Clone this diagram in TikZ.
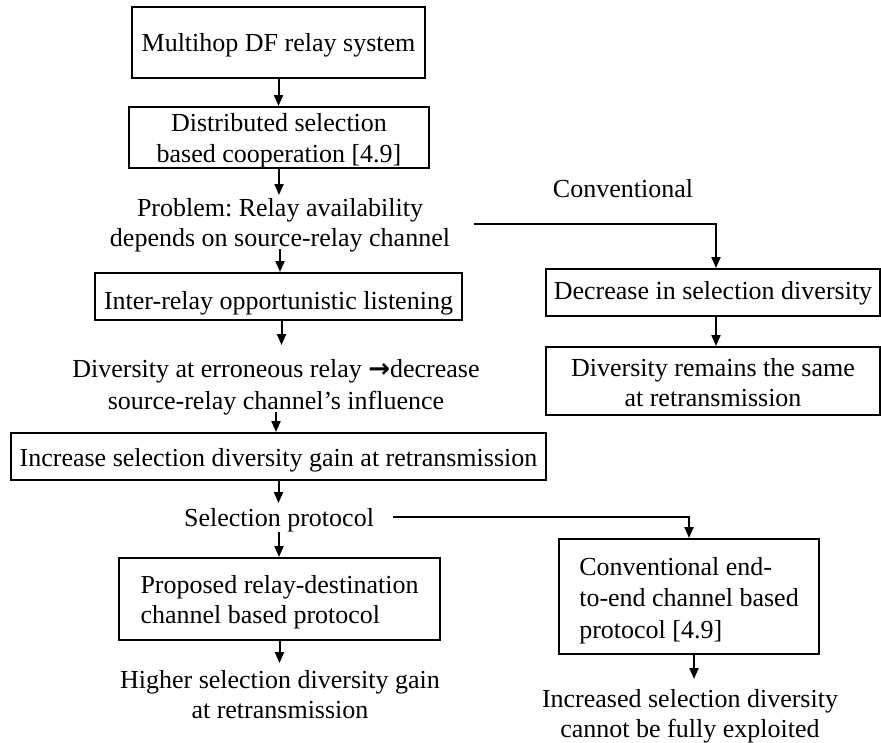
\documentclass[tikz,border=0pt]{standalone}
\usepackage{fontspec}
\setmainfont{Liberation Serif}
\newfontfamily\arrowfont{DejaVu Sans}
\usetikzlibrary{arrows.meta}
% invisible strut that sets the height of a first line above its baseline
\newcommand\liftby[1]{\rule{0pt}{#1}}
\frenchspacing
\begin{document}
\begin{tikzpicture}[x=1pt,y=-1pt,
  every node/.style={font=\fontsize{26}{30}\selectfont},
  box/.style={draw, line width=2pt, inner sep=0pt, align=center},
  txt/.style={inner sep=0pt, align=center, anchor=north},
  link/.style={line width=2pt},
  arr/.style={link, -{Triangle[length=11pt,width=9pt]}}
]
\useasboundingbox (0,0) rectangle (881,742);

% main column
\node[box, minimum width=293pt, minimum height=71pt] (sys) at (278.5,42.5) {\liftby{24.6pt}Multihop DF relay system};
\node[box, font=\fontsize{26}{31}\selectfont, minimum width=300pt, minimum height=61pt] (dsel) at (279,137.5) {\liftby{23.6pt}Distributed selection\\based cooperation [4.9]};
\node[txt] (prob) at (280,195) {\liftby{21pt}Problem: Relay availability\\depends on source-relay channel};
\node[box, minimum width=367pt, minimum height=47pt] (irl) at (278.5,296.5) {\liftby{32pt}Inter-relay opportunistic listening};
\node[txt, font=\fontsize{26}{32}\selectfont] (err) at (276,345) {\liftby{32pt}Diversity at erroneous relay {\arrowfont\bfseries →}decrease\\source-relay channel’s influence};
\node[box, minimum width=535pt, minimum height=47pt] (inc) at (278.5,456.5) {\liftby{26pt}Increase selection diversity gain at retransmission};
\node[txt] (selp) at (279,503) {\liftby{23pt}Selection protocol};
\node[box, align=left, minimum width=321pt, minimum height=82pt] (prop) at (279.5,599) {\liftby{23.6pt}Proposed relay-destination\\channel based protocol};
\node[txt] (high) at (280,663) {\liftby{25pt}Higher selection diversity gain\\at retransmission};

% conventional branch
\node[txt] (convlbl) at (623,177) {\liftby{20pt}Conventional};
\node[box, minimum width=334pt, minimum height=47pt] (dec) at (713,292.5) {\liftby{20.6pt}Decrease in selection diversity};
\node[box, minimum width=334pt, minimum height=68pt] (same) at (713,381) {\liftby{22pt}Diversity remains the same\\at retransmission};

% conventional protocol branch
\node[box, align=left, font=\fontsize{26}{31.5}\selectfont, minimum width=260pt, minimum height=115pt] (e2e) at (689,596.5) {\liftby{25.6pt}Conventional end-\\to-end channel based\\protocol [4.9]};
\node[txt] (expl) at (690,679) {\liftby{28pt}Increased selection diversity\\cannot be fully exploited};

% connectors
\draw[arr] (sys.south) -- (sys.south |- dsel.north);
\draw[arr] (dsel.south) -- (dsel.south |- prob.north);
\draw[arr] ([yshift=3pt]prob.south) -- (prob.south |- irl.north);
\draw[arr] ([xshift=3pt]irl.south) -- ([xshift=3pt]irl.south |- err.north);
\draw[arr] ([yshift=3pt]err.south) -- (err.south |- inc.north);
\draw[arr] (inc.south) -- (inc.south |- selp.north);
\draw[arr] (selp.south) -- (selp.south |- prop.north);
\draw[arr] (prop.south) -- (prop.south |- high.north);

\draw[arr] ([xshift=24pt]prob.east) -| ([xshift=3pt]dec.north);
\draw[arr] ([xshift=3pt]dec.south) -- ([xshift=3pt]same.north);

\draw[arr] ([xshift=19pt]selp.east) -| (e2e.north);
\draw[arr] ([xshift=5pt]e2e.south) -- ([xshift=5pt]e2e.south |- expl.north);
\end{tikzpicture}
\end{document}
